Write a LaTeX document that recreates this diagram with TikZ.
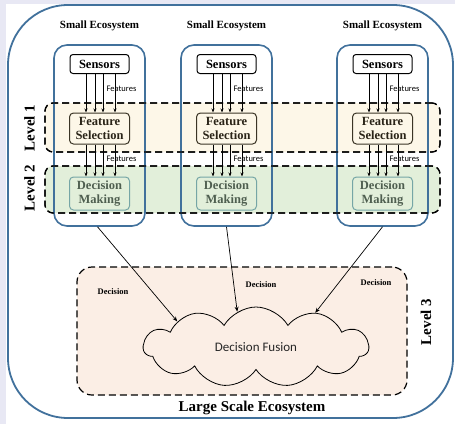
\documentclass[tikz,border=0pt]{standalone}
\usepackage{fontspec}
\setmainfont{Liberation Serif}
\newfontfamily\carlitofont{Carlito}
\usetikzlibrary{shapes.symbols,arrows.meta}
\definecolor{bgstrip}{HTML}{E8E8F4}
\definecolor{ecoblue}{HTML}{41719C}
\definecolor{lvone}{HTML}{FDF7E8}
\definecolor{lvtwo}{HTML}{E2EFDA}
\definecolor{lvthree}{HTML}{FBEEE5}
\definecolor{dmborder}{HTML}{76A6A6}
\definecolor{dmtext}{HTML}{4F5F50}
\definecolor{fsborder}{HTML}{3B3526}
\definecolor{fstext}{HTML}{2A2418}
\tikzset{
  ecobox/.style={draw=ecoblue, line width=1.6pt, rounded corners=13pt, minimum width=91pt, minimum height=181pt, inner sep=0pt},
  levelbox/.style={draw=black, line width=1.2pt, dash pattern=on 7pt off 4pt, rounded corners=8pt, inner sep=0pt},
  sensbox/.style={draw=black, line width=1pt, fill=white, rounded corners=3pt, minimum width=59pt, minimum height=19pt, inner sep=0pt, font=\bfseries\fontsize{12.5}{12.5}\selectfont},
  fsbox/.style={draw=fsborder, line width=1pt, fill=lvone, text=fstext, rounded corners=4pt, minimum width=60pt, minimum height=31pt, inner sep=0pt, align=center, font=\bfseries\fontsize{12.5}{13.5}\selectfont},
  dmbox/.style={draw=dmborder, line width=1pt, fill=lvtwo, text=dmtext, rounded corners=4pt, minimum width=60pt, minimum height=33pt, inner sep=0pt, align=center, font=\bfseries\fontsize{12.5}{13.5}\selectfont},
  feat/.style={font=\carlitofont\fontsize{8.5}{8.5}\selectfont, inner sep=0pt},
  title/.style={font=\bfseries\fontsize{11}{11}\selectfont, inner sep=0pt},
  levlab/.style={font=\bfseries\fontsize{15}{15}\selectfont, rotate=90, inner sep=0pt},
  declab/.style={font=\bfseries\fontsize{8.5}{8.5}\selectfont, inner sep=0pt},
  arr/.style={-{Stealth[length=4pt,width=3pt]}, line width=0.6pt},
  bigarr/.style={-{Stealth[length=5pt,width=4pt]}, line width=0.7pt},
}
\begin{document}
\begin{tikzpicture}[x=1pt,y=-1pt]
\useasboundingbox (0,0) rectangle (455,424);
\fill[white] (0,0) rectangle (455,424);
\fill[bgstrip] (0,0) rectangle (6,424);
\fill[bgstrip] (0,0) rectangle (455,4);
% large ecosystem
\draw[ecoblue, line width=1.8pt, fill=white, rounded corners=60pt] (8,5) rectangle (453,418);
% level backgrounds
\node[levelbox, fill=lvone, minimum width=395pt, minimum height=49pt] (lv1) at (242.5,127.5) {};
\node[levelbox, fill=lvtwo, minimum width=395pt, minimum height=47pt] (lv2) at (242.5,189.5) {};
\node[levelbox, fill=lvthree, minimum width=330pt, minimum height=128pt, rounded corners=15pt] (lv3) at (242,331) {};
\foreach \i/\cx in {1/99.5, 2/226.5, 3/382.5} {
  \node[ecobox] (eco\i) at (\cx,135.5) {};
  \node[title] (tt\i) at (\cx,26) {Small Ecosystem};
  \node[sensbox] (sens\i) at (\cx,64) {Sensors};
  \node[fsbox] (fs\i) at (\cx,128.5) {Feature\\Selection};
  \node[dmbox] (dm\i) at (\cx,193.5) {Decision\\Making};
  \foreach \o in {-13.5,-4.5,3.5,15.5} {
    \draw[arr] ([xshift=\o pt]sens\i.south) -- ([xshift=\o pt]fs\i.north);
    \draw[arr] ([xshift=\o pt]fs\i.south) -- ([xshift=\o pt]dm\i.north);
  }
  \node[feat] (fa\i) at (\cx+22,89) {Features};
  \node[feat] (fb\i) at (\cx+22,159) {Features};
}
\node[levelbox, minimum width=395pt, minimum height=49pt] (lv1b) at (242.5,127.5) {};
\node[levelbox, minimum width=395pt, minimum height=47pt] (lv2b) at (242.5,189.5) {};
% level labels
\node[levlab] (l1) at (29.5,128) {Level 1};
\node[levlab] (l2) at (29.5,188) {Level 2};
\node[levlab] (l3) at (426,322) {Level 3};
% cloud
\node[cloud, draw=black, line width=0.8pt, fill=lvthree, cloud puffs=11, cloud puff arc=120, aspect=2.9, minimum width=225pt, minimum height=80pt, inner sep=0pt, font=\carlitofont\fontsize{13}{13}\selectfont, text=black!85] (fusion) at (256,347) {Decision Fusion};
\node[declab] (d1) at (113,292) {Decision};
\node[declab] (d2) at (261,285) {Decision};
\node[declab] (d3) at (376,283) {Decision};
\draw[bigarr] ([xshift=-2pt]eco1.south) -- (fusion.162);
\draw[bigarr] (eco2.south) -- (fusion.118);
\draw[bigarr] (eco3.south) -- (fusion.30);
\node[font=\bfseries\fontsize{15}{15}\selectfont, inner sep=0pt] (large) at (252,408) {Large Scale Ecosystem};
\end{tikzpicture}
\end{document}
